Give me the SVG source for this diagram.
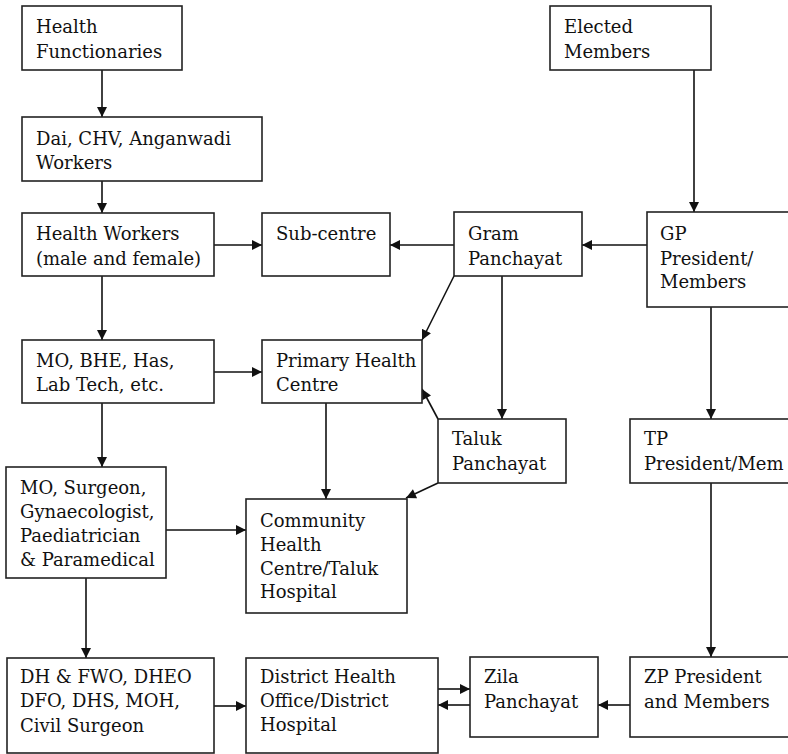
<svg xmlns="http://www.w3.org/2000/svg" width="788" height="754" viewBox="0 0 788 754">
<defs>
<style>
rect{fill:#fff;stroke:#222;stroke-width:1.6}
text{font-family:'DejaVu Serif','Liberation Serif',serif;font-size:18px;fill:#111}
.c line{stroke:#111;stroke-width:1.6;marker-end:url(#ah)}
</style>
<marker id="ah" viewBox="0 0 10 10" refX="10" refY="5" markerUnits="userSpaceOnUse" markerWidth="11" markerHeight="10" orient="auto"><path d="M0,0 L10,5 L0,10 Z" fill="#111"/></marker>
</defs>
<rect x="0" y="0" width="788" height="754" style="stroke:none"/>
<g class="c">
<line x1="102" y1="70" x2="102" y2="117"/>
<line x1="102" y1="181" x2="102" y2="213"/>
<line x1="102" y1="276" x2="102" y2="340"/>
<line x1="102" y1="403" x2="102" y2="467"/>
<line x1="86" y1="578" x2="86" y2="658"/>
<line x1="214" y1="245" x2="262" y2="245"/>
<line x1="454" y1="245" x2="390" y2="245"/>
<line x1="647" y1="245" x2="582" y2="245"/>
<line x1="694" y1="70" x2="694" y2="212"/>
<line x1="214" y1="372" x2="262" y2="372"/>
<line x1="454" y1="276" x2="422" y2="340"/>
<line x1="502" y1="276" x2="502" y2="419"/>
<line x1="438" y1="419" x2="422" y2="389"/>
<line x1="438" y1="483" x2="406" y2="498"/>
<line x1="326" y1="403" x2="326" y2="499"/>
<line x1="166" y1="530" x2="246" y2="530"/>
<line x1="711" y1="307" x2="711" y2="419"/>
<line x1="711" y1="483" x2="711" y2="657"/>
<line x1="214" y1="706" x2="246" y2="706"/>
<line x1="438" y1="689" x2="470" y2="689"/>
<line x1="470" y1="705" x2="438" y2="705"/>
<line x1="630" y1="705" x2="598" y2="705"/>
</g>
<g id="health-functionaries"><rect x="22" y="6" width="160" height="64"/><text x="36" y="33">Health</text><text x="36" y="58">Functionaries</text></g>
<g id="dai"><rect x="22" y="117" width="240" height="64"/><text x="36" y="145">Dai, CHV, Anganwadi</text><text x="36" y="169">Workers</text></g>
<g id="health-workers"><rect x="22" y="213" width="192" height="63"/><text x="36" y="240">Health Workers</text><text x="36" y="265">(male and female)</text></g>
<g id="sub-centre"><rect x="262" y="213" width="128" height="63"/><text x="276" y="240">Sub-centre</text></g>
<g id="gram-panchayat"><rect x="454" y="212" width="128" height="64"/><text x="468" y="240">Gram</text><text x="468" y="265">Panchayat</text></g>
<g id="gp-president"><rect x="647" y="212" width="150" height="95"/><text x="660" y="240">GP</text><text x="660" y="265">President/</text><text x="660" y="288">Members</text></g>
<g id="elected-members"><rect x="550" y="6" width="161" height="64"/><text x="564" y="33">Elected</text><text x="564" y="58">Members</text></g>
<g id="mo-bhe"><rect x="22" y="340" width="192" height="63"/><text x="36" y="367">MO, BHE, Has,</text><text x="36" y="391">Lab Tech, etc.</text></g>
<g id="phc"><rect x="262" y="340" width="160" height="63"/><text x="276" y="367">Primary Health</text><text x="276" y="391">Centre</text></g>
<g id="taluk-panchayat"><rect x="438" y="419" width="128" height="64"/><text x="452" y="445">Taluk</text><text x="452" y="470">Panchayat</text></g>
<g id="tp-president"><rect x="630" y="419" width="167" height="64"/><text x="644" y="445">TP</text><text x="644" y="470">President/Mem</text></g>
<g id="mo-surgeon"><rect x="6" y="467" width="160" height="111"/><text x="20" y="494">MO, Surgeon,</text><text x="20" y="518">Gynaecologist,</text><text x="20" y="542">Paediatrician</text><text x="20" y="566">&amp; Paramedical</text></g>
<g id="chc"><rect x="246" y="499" width="161" height="114"/><text x="260" y="527">Community</text><text x="260" y="551">Health</text><text x="260" y="575">Centre/Taluk</text><text x="260" y="598">Hospital</text></g>
<g id="dh-fwo"><rect x="7" y="658" width="207" height="95"/><text x="20" y="683">DH &amp; FWO, DHEO</text><text x="20" y="707">DFO, DHS, MOH,</text><text x="20" y="732">Civil Surgeon</text></g>
<g id="district-health-office"><rect x="246" y="658" width="192" height="95"/><text x="260" y="683">District Health</text><text x="260" y="707">Office/District</text><text x="260" y="731">Hospital</text></g>
<g id="zila-panchayat"><rect x="470" y="657" width="128" height="80"/><text x="484" y="683">Zila</text><text x="484" y="708">Panchayat</text></g>
<g id="zp-president"><rect x="630" y="657" width="167" height="80"/><text x="644" y="683">ZP President</text><text x="644" y="708">and Members</text></g>
</svg>
